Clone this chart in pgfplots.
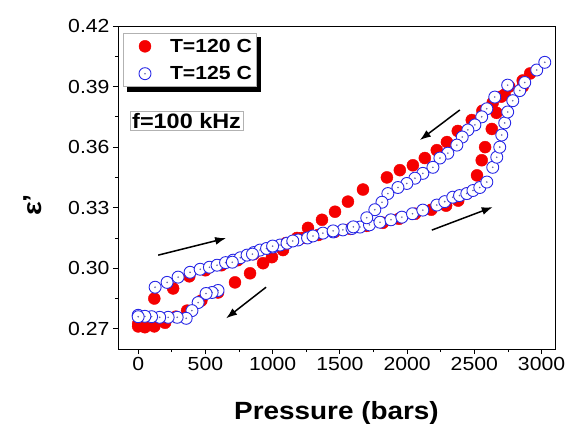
\documentclass[border=0pt]{standalone}
\usepackage{pgfplots}
\pgfplotsset{compat=1.18}
\usepackage{fontspec}
\setmainfont{Liberation Sans}[FakeStretch=1.12]
\usetikzlibrary{arrows.meta}
\definecolor{myred}{RGB}{245,0,0}
\definecolor{myblue}{RGB}{40,40,230}
\definecolor{dotc}{RGB}{100,100,170}
\pgfdeclareplotmark{odot}{%
  \pgfpathcircle{\pgfpointorigin}{\pgfplotmarksize}%
  \pgfusepathqfillstroke
  \pgfscope
  \pgfsetfillcolor{dotc}%
  \pgfpathcircle{\pgfpointorigin}{0.9pt}%
  \pgfusepathqfill
  \endpgfscope}

\pgfplotstableread{
P e
0 0.2725
120 0.2850
260 0.2900
380 0.2960
500 0.2990
620 0.3015
740 0.3040
860 0.3070
980 0.3100
1100 0.3125
1220 0.3150
1340 0.3165
1460 0.3180
1580 0.3195
1700 0.3210
1820 0.3225
1940 0.3245
2060 0.3270
2180 0.3290
2290 0.3310
2380 0.3335
2445 0.3370
2520 0.3460
2555 0.3535
2580 0.3600
2630 0.3690
2665 0.3770
2700 0.3850
2760 0.3900
2860 0.3930
2915 0.3965
2860 0.3900
2726 0.3860
2637 0.3820
2560 0.3780
2481 0.3734
2377 0.3680
2296 0.3625
2221 0.3585
2132 0.3546
2043 0.3510
1946 0.3486
1850 0.3450
1672 0.3390
1560 0.3330
1464 0.3280
1367 0.3240
1263 0.3200
1181 0.3150
1077 0.3090
995 0.3055
929 0.3025
832 0.2975
720 0.2930
594 0.2880
470 0.2840
364 0.2790
280 0.2760
200 0.2730
120 0.2712
50 0.2708
0 0.2712
}\redtab

\pgfplotstableread{
P e
0 0.2767
126 0.2906
215 0.2930
297 0.2956
386 0.2980
461 0.2995
530 0.3005
587 0.3015
650 0.3028
706 0.3040
760 0.3052
810 0.3065
860 0.3078
906 0.3090
955 0.3098
1003 0.3105
1055 0.3115
1107 0.3124
1189 0.3140
1260 0.3150
1374 0.3174
1450 0.3180
1523 0.3190
1590 0.3197
1650 0.3204
1720 0.3215
1798 0.3228
1880 0.3240
1961 0.3253
2040 0.3270
2117 0.3288
2221 0.3313
2280 0.3330
2340 0.3352
2390 0.3360
2444 0.3370
2490 0.3385
2541 0.3400
2593 0.3427
2637 0.3500
2667 0.3550
2689 0.3600
2704 0.3660
2726 0.3720
2748 0.3774
2786 0.3830
2838 0.3880
2875 0.3920
2964 0.3982
3024 0.4020
2748 0.3907
2652 0.3848
2593 0.3790
2555 0.3750
2504 0.3710
2452 0.3685
2410 0.3650
2370 0.3610
2303 0.3570
2244 0.3546
2192 0.3500
2117 0.3470
2058 0.3446
1998 0.3420
1932 0.3400
1857 0.3370
1813 0.3327
1760 0.3290
1700 0.3250
1600 0.3205
1450 0.3185
1300 0.3160
1150 0.3135
1000 0.3110
850 0.3070
700 0.3030
594 0.2890
550 0.2880
505 0.2875
446 0.2830
400 0.2790
357 0.2752
290 0.2757
223 0.2757
160 0.2757
100 0.2760
50 0.2762
0 0.2760
}\bluetab

\begin{document}
\begin{tikzpicture}
\path[use as bounding box] (0,0) rectangle (569bp,424bp);
\begin{axis}[
  at={(118bp,75bp)}, anchor=south west,
  scale only axis, width=437bp, height=323bp,
  xmin=-150, xmax=3100, ymin=0.26, ymax=0.42,
  xtick={0,500,1000,1500,2000,2500,3000},
  ytick={0.27,0.30,0.33,0.36,0.39,0.42},
  minor x tick num=1, minor y tick num=1,
  tick align=outside, tickpos=left,
  major tick length=5bp, minor tick length=3bp,
  axis line style={line width=0.8pt},
  tick style={line width=0.8pt, black},
  /pgf/number format/assume math mode=true,
  /pgf/number format/1000 sep={},
  yticklabel style={/pgf/number format/.cd, fixed, fixed zerofill, precision=2},
  ticklabel style={font=\fontsize{19}{21}\selectfont},
  xlabel={\bfseries Pressure (bars)},
  xlabel style={font=\fontsize{25}{28}\selectfont, at={(axis description cs:0.5,-0.15)}, anchor=north},
  ylabel={\bfseries ε'},
  ylabel style={font=\fontsize{26}{28}\selectfont, at={(axis description cs:-0.195,0.446)}, anchor=center},
  legend image code/.code={%
    \pgfpathrectangle{\pgfpoint{-18bp}{-7bp}}{\pgfpoint{30bp}{15bp}}\pgfusepath{}%
    \draw[#1] plot coordinates {(0bp,0bp)};},
  legend style={at={(axis description cs:0.011,0.978)}, anchor=north west,
    draw=gray!60, line width=0.4pt, fill=white, font=\bfseries\fontsize{19}{21}\selectfont,
    inner xsep=4bp, inner ysep=5bp, row sep=12bp, column sep=13bp,
    nodes={inner sep=0bp}},
  legend cell align=left,
]
% legend shadow (drawn beneath the legend box)
\fill[black] (axis description cs:0.0206,0.9659) rectangle (axis description cs:0.3272,0.7957);

\addplot[only marks, mark=*, mark size=6bp, mark options={fill=myred, draw=myred}] table[x=P,y=e] {\redtab};
\addlegendentry{T=120 C}
\addplot[only marks, mark=odot, mark size=6bp, mark options={fill=white, draw=myblue, line width=0.9pt}] table[x=P,y=e] {\bluetab};
\addlegendentry{T=125 C}

\draw[line width=1.5pt, -{Latex[length=11bp,width=8bp]}] (axis cs:149,0.3065) -- (axis cs:654,0.3149);
\draw[line width=1.5pt, -{Latex[length=11bp,width=8bp]}] (axis cs:951,0.2906) -- (axis cs:654,0.2752);
\draw[line width=1.5pt, -{Latex[length=11bp,width=8bp]}] (axis cs:2392,0.3784) -- (axis cs:2095,0.3635);
\draw[line width=1.5pt, -{Latex[length=11bp,width=8bp]}] (axis cs:2184,0.3189) -- (axis cs:2637,0.3303);

\node[draw=gray!60, line width=0.4pt, inner sep=2bp, font=\bfseries\fontsize{21}{23}\selectfont] at (axis description cs:0.157,0.707) {f=100 kHz};
\end{axis}
\end{tikzpicture}
\end{document}
